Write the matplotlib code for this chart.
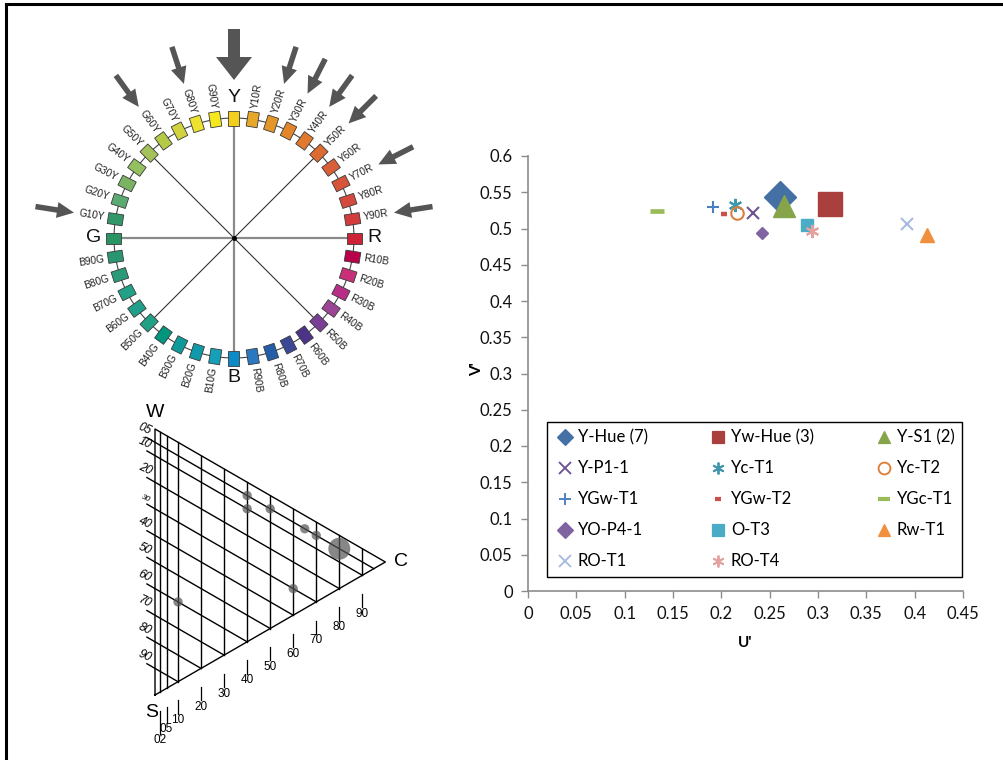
import numpy as np
import matplotlib.pyplot as plt
from matplotlib.patches import Polygon
from matplotlib.lines import Line2D
from matplotlib.ticker import MultipleLocator, FuncFormatter

# ---- scatter data (u', v') ----
series_names = ["Y-Hue (7)", "Yw-Hue (3)", "Y-S1 (2)", "Y-P1-1", "Yc-T1", "Yc-T2",
                "YGw-T1", "YGw-T2", "YGc-T1", "YO-P4-1", "O-T3", "Rw-T1",
                "RO-T1", "RO-T4"]
u_vals = [0.261, 0.312, 0.265, 0.233, 0.214, 0.216, 0.191, 0.203, 0.133,
          0.242, 0.289, 0.413, 0.392, 0.294]
v_vals = [0.544, 0.534, 0.531, 0.521, 0.532, 0.521, 0.529, 0.520, 0.524,
          0.494, 0.505, 0.491, 0.506, 0.496]

# ---- NCS hue circle ----
primaries = ["Y", "R", "B", "G"]
hue_names = []
for p, q in zip(primaries, primaries[1:] + primaries[:1]):
    hue_names.append(p)
    for k in range(1, 10):
        hue_names.append(p + str(k * 10) + q)
hue_colors = ["#f3cf1c", "#e7a82a", "#e49628", "#e3862b", "#e0782e", "#dc6b32",
              "#d95f39", "#d6553a", "#d44a3c", "#d23c3d", "#cc2337", "#b8004b",
              "#c9307a", "#b72e87", "#9c4595", "#7a3f94", "#4b3488", "#3a4895",
              "#245ea8", "#2a78c0", "#0a8bc8", "#14a0b9", "#0e9aa8", "#0e9a98",
              "#00957d", "#20a085", "#20a08a", "#22a088", "#2a9a78", "#2a9670",
              "#2a9464", "#32986a", "#5aaa72", "#7ab462", "#94c060", "#a4c25a",
              "#b4ca46", "#d0d23e", "#eee230", "#f6e81c"]
arrow_hues = ["G10Y", "G60Y", "G80Y", "Y20R", "Y30R", "Y40R", "Y50R", "Y70R", "Y90R"]
big_arrow_hue = "Y"

# ---- NCS triangle: samples as blackness / chromaticness ----
tri_black = [5, 10, 5, 5, 5, 5, 30, 60]
tri_chroma = [40, 40, 50, 65, 70, 80, 60, 10]
tri_big = [False, False, False, False, False, True, False, False]
black_lines = [5, 10, 20, 30, 40, 50, 60, 70, 80, 90]
chroma_lines = [2, 5, 10, 20, 30, 40, 50, 60, 70, 80, 90]

W, H = 1004, 760
fig = plt.figure(figsize=(W / 100, H / 100), dpi=100)
fig.patch.set_facecolor("white")

# frame lines (top and left)
fig.add_artist(Line2D([6 / W, 1003 / W], [1 - 4 / H, 1 - 4 / H], transform=fig.transFigure,
                      color="black", lw=2.2))
fig.add_artist(Line2D([6 / W, 6 / W], [0, 1 - 4 / H], transform=fig.transFigure,
                      color="black", lw=2.2))

# ================= hue circle =================
axc = fig.add_axes([0, (H - 476) / H, 468 / W, 476 / H])
axc.set_xlim(-234, 234)
axc.set_ylim(-238, 238)
axc.axis("off")
R0 = 120
th_all = np.linspace(0, 2 * np.pi, 400)
axc.plot(R0 * np.cos(th_all), R0 * np.sin(th_all), color="#444444", lw=0.8, zorder=1)
axc.plot([0, 0], [-113, 113], color="#8a8a8a", lw=1.6, zorder=1)
axc.plot([-113, 113], [0, 0], color="#8a8a8a", lw=1.6, zorder=1)
for ang in (45, 135):
    a = np.radians(ang)
    axc.plot([-113 * np.cos(a), 113 * np.cos(a)], [-113 * np.sin(a), 113 * np.sin(a)],
             color="#333333", lw=0.8, zorder=1)
axc.plot(0, 0, "o", color="black", ms=2.5, zorder=2)

for i, (name, col) in enumerate(zip(hue_names, hue_colors)):
    deg = 90 - 9 * i
    a = np.radians(deg)
    n = np.array([np.cos(a), np.sin(a)])
    t = np.array([-np.sin(a), np.cos(a)])
    c = R0 * n
    hw, hh = 5.5, 7.5
    corners = [c - hw * t - hh * n, c + hw * t - hh * n, c + hw * t + hh * n, c - hw * t + hh * n]
    axc.add_patch(Polygon(corners, closed=True, facecolor=col, edgecolor="#3a3a3a",
                          lw=0.6, zorder=3))
    if name in primaries:
        rr = 140
        axc.text(rr * n[0], rr * n[1], name, fontsize=14, ha="center", va="center",
                 family="Liberation Sans", color="#111111")
    else:
        d = ((deg + 180) % 360) - 180
        rr = 131
        if np.cos(a) > 0:
            rot, ha = d, "left"
        else:
            rot, ha = d - 180 if d > 0 else d + 180, "right"
        axc.text(rr * n[0], rr * n[1], name, fontsize=7.3, rotation=rot, ha=ha, va="center",
                 rotation_mode="anchor", family="Liberation Sans", color="#222222")

for name in arrow_hues + [big_arrow_hue]:
    i = hue_names.index(name)
    a = np.radians(90 - 9 * i)
    if name == big_arrow_hue:
        r1, r2, w, hw, hl = 209, 158, 12, 36, 23
    else:
        r1, r2, w, hw, hl = 201, 162, 5.5, 16, 17
    axc.arrow(r1 * np.cos(a), r1 * np.sin(a), (r2 - r1) * np.cos(a), (r2 - r1) * np.sin(a),
              width=w, head_width=hw, head_length=hl, length_includes_head=True,
              fc="#555555", ec="none", zorder=4)

# ================= NCS triangle =================
axt = fig.add_axes([100 / W, 0, 320 / W, 360 / H])
axt.set_xlim((100 - 155) / 266, (420 - 155) / 266)
axt.set_ylim((695 - 760) / 266, (695 - 400) / 266)
axt.axis("off")
k = np.sqrt(3) / 2


def tri_xy(s, c):
    s = np.asarray(s) / 100.0
    c = np.asarray(c) / 100.0
    return k * c, 1 - s - 0.5 * c


lw_t = 1.0
axt.plot([0, 0, k, 0], [0, 1, 0.5, 0], color="black", lw=lw_t)
for c in chroma_lines:
    x0, y0 = tri_xy(0, c)
    x1, y1 = tri_xy(100 - c, c)
    axt.plot([x0, x1], [y0, y1], color="black", lw=lw_t)
    # tick and label below the S-C edge
    off = {2: 0.035, 5: 0.01}.get(c, 0)
    axt.plot([x1, x1], [y1 - 0.07, y1 - 0.12 - off], color="black", lw=0.9)
    axt.text(x1, y1 - 0.122 - off, "%02d" % c, fontsize=8.5, ha="center", va="top",
             family="Liberation Sans")
dirv = np.array([k, -0.5])
for s in black_lines:
    x0, y0 = tri_xy(s, 0)
    x1, y1 = tri_xy(s, 100 - s)
    xs, ys = np.array([x0, y0]) - 0.035 * dirv
    axt.plot([xs, x1], [ys, y1], color="black", lw=lw_t)
    axt.text(xs + 0.005, ys, "%02d" % s, fontsize=6 if s == 30 else 8.5, rotation=-25,
             rotation_mode="anchor", ha="right", va="bottom", family="Liberation Sans",
             style="italic")
tx, ty = tri_xy(tri_black, tri_chroma)
sizes = [250 if b else 45 for b in tri_big]
axt.scatter(tx, ty, s=sizes, color="#555555", alpha=0.7, edgecolors="none", zorder=5)
axt.text(0, 1.063, "W", fontsize=14, ha="center", va="center", family="Liberation Sans")
axt.text(-0.011, -0.064, "S", fontsize=14, ha="center", va="center", family="Liberation Sans")
axt.text(0.9, 0.5, "C", fontsize=14, ha="left", va="center", family="Liberation Sans")

# ================= u'v' scatter =================
plt.rcParams["font.family"] = ["Lato", "DejaVu Sans"]
ax = fig.add_axes([528 / W, 169 / H, 435 / W, 435 / H])
markers = ["D", "s", "^", "x", (6, 2, 0), "o", "+", "_", "_", "D", "s", "^", "x", (6, 2, 0)]
colors = ["#4470a6", "#a9403e", "#86a44a", "#6c5490", "#3f97ae", "#dc7f3a",
          "#4a7fc0", "#c9504d", "#9bbb59", "#8064a2", "#4bacc6", "#f0903f",
          "#a7bbdf", "#e3a2a0"]
msizes = [16, 17, 16.5, 9, 9.5, 9, 9, 5, 9.5, 6.3, 9, 10, 9, 9.5]
filled = [True, True, True, False, False, False, False, False, False, True, True, True,
          False, False]
mews = [1, 1, 1, 1.5, 1.5, 1.5, 1.5, 3.2, 3.4, 1, 1, 1, 1.5, 1.5]
handles = []
for i, name in enumerate(series_names):
    mk = markers[i]
    fc = colors[i] if filled[i] else "none"
    ax.plot(u_vals[i], v_vals[i], linestyle="none", marker=mk, ms=msizes[i],
            mfc=fc, mec=colors[i], mew=mews[i], zorder=3 + i)
    hs = 8 if filled[i] else 8.5
    if mk == "_":
        hs = 5 if msizes[i] < 7 else 8.5
    handles.append(Line2D([], [], linestyle="none", marker=mk, ms=hs, mfc=fc,
                          mec=colors[i], mew=min(mews[i], 3) if mk == "_" else mews[i] * 0.9))

ax.set_xlim(0, 0.45)
ax.set_ylim(0, 0.6)
ax.xaxis.set_major_locator(MultipleLocator(0.05))
ax.yaxis.set_major_locator(MultipleLocator(0.05))
fmt = FuncFormatter(lambda v, p: "%g" % round(v, 2))
ax.xaxis.set_major_formatter(fmt)
ax.yaxis.set_major_formatter(fmt)
for sp in ("top", "right"):
    ax.spines[sp].set_visible(False)
for sp in ("left", "bottom"):
    ax.spines[sp].set_color("#8c8c8c")
    ax.spines[sp].set_linewidth(1.2)
ax.tick_params(direction="out", length=5, width=1, color="#8c8c8c", labelsize=12,
               labelcolor="#111111", pad=6)
ax.set_xlabel("U'", fontsize=11, fontweight="bold", labelpad=10)
ax.set_ylabel("V'", fontsize=11, fontweight="bold")
ax.yaxis.set_label_coords(-0.1, 0.51)

order = [0, 3, 6, 9, 12, 1, 4, 7, 10, 13, 2, 5, 8, 11]
leg = ax.legend([handles[j] for j in order], [series_names[j] for j in order], ncol=3,
                loc="upper left", bbox_to_anchor=(0.044, 0.037, 0.954, 0.352),
                mode="expand", fontsize=12, frameon=True, fancybox=False,
                edgecolor="black", framealpha=1, handlelength=1.3, handletextpad=0.1,
                labelspacing=0.9, borderpad=0.45, borderaxespad=0, columnspacing=1.0)
leg.get_frame().set_linewidth(1.0)

fig.savefig("out.png", dpi=100)
